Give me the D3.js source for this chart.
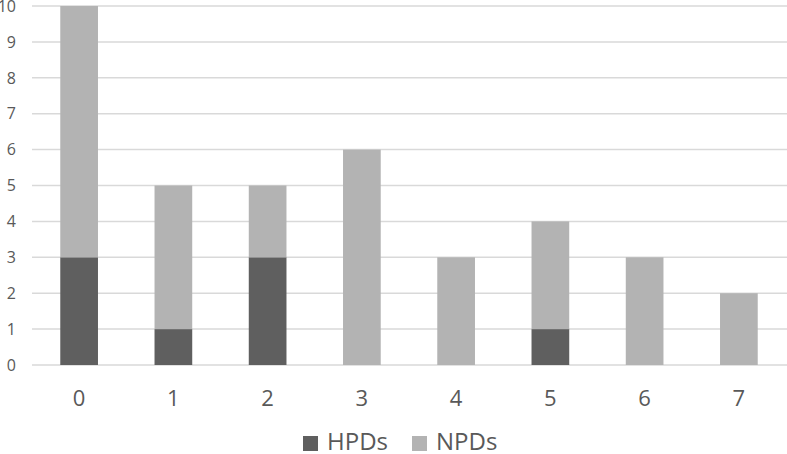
<!DOCTYPE html>
<html>
<head>
<meta charset="utf-8">
<script src="https://cdn.jsdelivr.net/npm/d3@7"></script>
<style>
  body { margin: 0; background: #fff; }
  text { font-family: "Open Sans", "Noto Sans", sans-serif; fill: #595959; }
</style>
</head>
<body>
<div id="chart"></div>
<script>
// Data
const categories = ["0", "1", "2", "3", "4", "5", "6", "7"];
const hpds = [3, 1, 3, 0, 0, 1, 0, 0];
const npds = [7, 4, 2, 6, 3, 3, 3, 2];
const yTicks = [0, 1, 2, 3, 4, 5, 6, 7, 8, 9, 10];
const seriesNames = ["HPDs", "NPDs"];
const colors = ["#5f5f5f", "#b3b3b3"];

const width = 787, height = 454;
const margin = { top: 6, right: 1, bottom: 89, left: 32 };

const svg = d3.select("#chart")
    .append("svg")
    .attr("width", width)
    .attr("height", height);

const x = d3.scaleBand()
    .domain(categories)
    .range([margin.left, width - margin.right])
    .paddingInner(0.6)
    .paddingOuter(0.3);

const y = d3.scaleLinear()
    .domain([0, 10])
    .range([height - margin.bottom, margin.top]);

// gridlines
svg.append("g")
    .selectAll("line")
    .data(yTicks)
    .enter()
    .append("line")
    .attr("x1", margin.left)
    .attr("x2", width)
    .attr("y1", d => y(d))
    .attr("y2", d => y(d))
    .attr("stroke", "#d9d9d9")
    .attr("stroke-width", 1.5);

// y labels
svg.append("g")
    .selectAll("text")
    .data(yTicks)
    .enter()
    .append("text")
    .attr("x", 16)
    .attr("y", d => y(d))
    .attr("dy", "0.36em")
    .attr("text-anchor", "end")
    .attr("font-size", 16)
    .text(d => d);

// stacked bars
const table = categories.map((c, i) => ({ cat: c, HPDs: hpds[i], NPDs: npds[i] }));
const stacked = d3.stack().keys(seriesNames)(table);

svg.append("g")
    .selectAll("g")
    .data(stacked)
    .enter()
    .append("g")
    .attr("fill", (d, i) => colors[i])
    .selectAll("rect")
    .data(d => d)
    .enter()
    .append("rect")
    .attr("x", d => x(d.data.cat))
    .attr("y", d => y(d[1]))
    .attr("width", x.bandwidth())
    .attr("height", d => y(d[0]) - y(d[1]));

// x labels
svg.append("g")
    .selectAll("text")
    .data(categories)
    .enter()
    .append("text")
    .attr("x", d => x(d) + x.bandwidth() / 2)
    .attr("y", 406)
    .attr("text-anchor", "middle")
    .attr("font-size", 22)
    .text(d => d);

// legend
const legend = svg.append("g");
const legendX = [303, 412];
seriesNames.forEach((name, i) => {
    legend.append("rect")
        .attr("x", legendX[i])
        .attr("y", 436)
        .attr("width", 15)
        .attr("height", 15)
        .attr("fill", colors[i]);
    legend.append("text")
        .attr("x", legendX[i] + 24)
        .attr("y", 450)
        .attr("font-size", 24)
        .text(name);
});
</script>
</body>
</html>
